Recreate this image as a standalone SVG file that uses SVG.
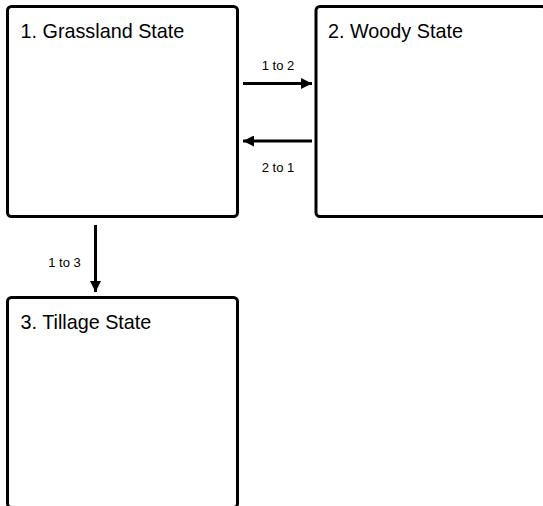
<svg xmlns="http://www.w3.org/2000/svg" width="543" height="506" viewBox="0 0 543 506">
<defs>
<style>
.box{fill:#fff;stroke:#000;stroke-width:3}
.title{font-family:"Liberation Sans",Arial,sans-serif;font-size:19.8px;fill:#000}
.lbl{font-family:"Liberation Sans",Arial,sans-serif;font-size:13px;fill:#000}
.conn{stroke:#000;stroke-width:3;fill:none}
</style>
<marker id="ah" viewBox="0 0 10 10" refX="10" refY="5" markerWidth="11" markerHeight="11" markerUnits="userSpaceOnUse" orient="auto">
<path d="M0,0 L10,5 L0,10 Z" fill="#000"/>
</marker>
</defs>
<rect width="543" height="506" fill="#fff"/>
<g id="node1">
<rect class="box" x="7.5" y="6.5" width="230" height="210" rx="4"/>
<text class="title" x="20.5" y="38">1. Grassland State</text>
</g>
<g id="node2">
<rect class="box" x="316" y="6.5" width="230" height="210" rx="4"/>
<text class="title" x="328" y="38">2. Woody State</text>
</g>
<g id="node3">
<rect class="box" x="7.5" y="297.5" width="230" height="210" rx="4"/>
<text class="title" x="20.5" y="329">3. Tillage State</text>
</g>
<g id="connectors">
<line class="conn" x1="243" y1="83.5" x2="312" y2="83.5" marker-end="url(#ah)"/>
<text class="lbl" x="278" y="69.5" text-anchor="middle">1 to 2</text>
<line class="conn" x1="312" y1="141" x2="243" y2="141" marker-end="url(#ah)"/>
<text class="lbl" x="278" y="171.5" text-anchor="middle">2 to 1</text>
<line class="conn" x1="95.5" y1="225" x2="95.5" y2="292" marker-end="url(#ah)"/>
<text class="lbl" x="64.5" y="266.5" text-anchor="middle">1 to 3</text>
</g>
</svg>
